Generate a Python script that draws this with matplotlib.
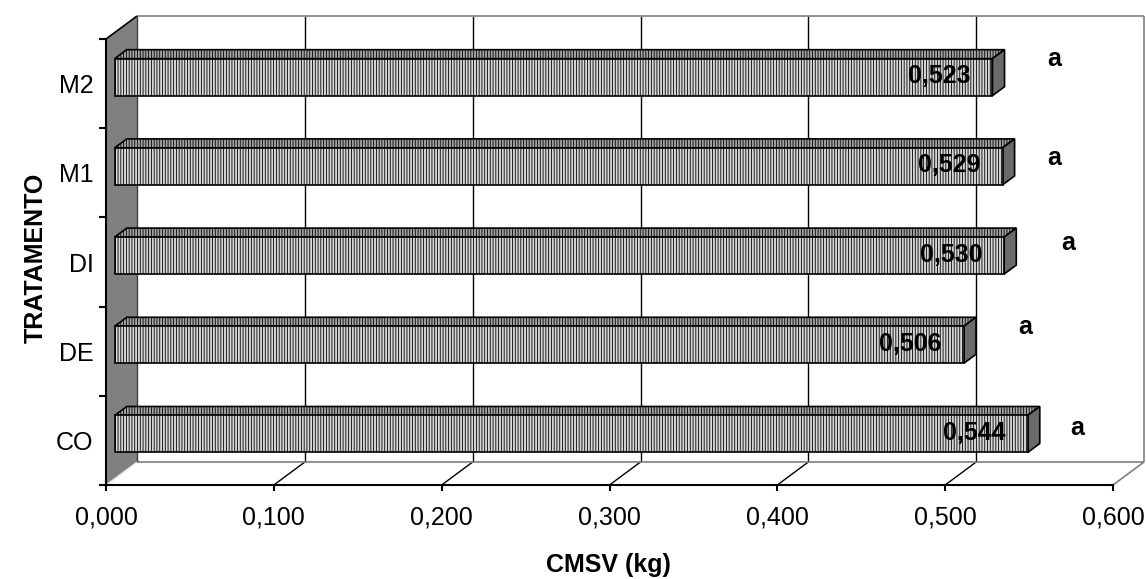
import numpy as np
import matplotlib
matplotlib.use("Agg")
import matplotlib.pyplot as plt
from matplotlib.patches import Polygon

# Data
categories = ["CO", "DE", "DI", "M1", "M2"]
cmsv = [0.544, 0.506, 0.530, 0.529, 0.523]
letters = ["a", "a", "a", "a", "a"]
xticks = [0.0, 0.1, 0.2, 0.3, 0.4, 0.5, 0.6]

# letter placement (pixel offsets from the bar end / category centre)
letter_dx = [49, 61, 64, 52, 62]
letter_dy = [6, 18, 13, 8, 18]

plt.rcParams['font.family'] = ['Liberation Sans', 'DejaVu Sans']
plt.rcParams['hatch.color'] = '#bababa'
plt.rcParams['hatch.linewidth'] = 0.6

fig = plt.figure(figsize=(11.46, 5.79), dpi=100)
W, H = 1146, 579
L, R, T, B = 106, 1113, 39, 485
ax = fig.add_axes([L / W, 1 - B / H, (R - L) / W, (B - T) / H])
ax.set_xlim(0, 0.6)
ax.set_ylim(-0.5, 4.5)
ax.patch.set_visible(False)

# depth of the 3d box in pixels, converted to data units
DX = 31 * 0.6 / (R - L)
DY = 23 * 5.0 / (B - T)


def sh(x, y, f):
    return (x + f * DX, y + f * DY)


def poly(pts, fc, ec="black", lw=1.0, z=1, hatch=None):
    p = Polygon(pts, closed=True, facecolor=fc, edgecolor=ec, lw=lw,
                zorder=z, clip_on=False, hatch=hatch)
    ax.add_patch(p)


def line(p0, p1, c="black", lw=1.0, z=2):
    ax.plot([p0[0], p1[0]], [p0[1], p1[1]], color=c, lw=lw, zorder=z,
            clip_on=False, solid_capstyle="butt")


x0, x1 = 0.0, 0.6
y0, y1 = -0.5, 4.5

# back wall
poly([sh(x0, y0, 1), sh(x1, y0, 1), sh(x1, y1, 1), sh(x0, y1, 1)],
     "white", ec="none", z=0.5)
for xv in xticks[1:-1]:
    line(sh(xv, y0, 1), sh(xv, y1, 1), "black", 1.0, 1)
    line((xv, y0), sh(xv, y0, 1), "black", 1.0, 1)
line(sh(x0, y1, 1), sh(x1, y1, 1), "#808080", 1.2, 1)
line(sh(x1, y1, 1), sh(x1, y0, 1), "#808080", 1.2, 1)
line(sh(x0, y0, 1), sh(x1, y0, 1), "#808080", 1.2, 1)
line((x1, y0), sh(x1, y0, 1), "#808080", 1.2, 1)

# left wall
poly([(x0, y0), (x0, y1), sh(x0, y1, 1), sh(x0, y0, 1)], "#808080",
     ec="none", z=0.8)
line((x0, y1), sh(x0, y1, 1), "black", 1.2, 1)
line(sh(x0, y1, 1), sh(x0, y0, 1), "#404040", 1.0, 1)
line((x0, y0), sh(x0, y0, 1), "#e0e0e0", 1.0, 1)

# bars
h = 0.415
f0, f1 = 0.28, 0.67
for i, v in enumerate(cmsv):
    lo, hi = i - h / 2, i + h / 2
    poly([sh(0, hi, f0), sh(v, hi, f0), sh(v, hi, f1), sh(0, hi, f1)],
         "#a2a2a2", lw=1.2, z=3, hatch="||||||")
    poly([sh(v, lo, f0), sh(v, hi, f0), sh(v, hi, f1), sh(v, lo, f1)],
         "#6a6a6a", lw=1.2, z=3)
    poly([sh(0, lo, f0), sh(v, lo, f0), sh(v, hi, f0), sh(0, hi, f0)],
         "#d6d6d6", lw=1.2, z=4, hatch="||||||")
    ax.annotate(f"{v:.3f}".replace(".", ","), xy=sh(v, i, f0),
                xytext=(-22, 1), textcoords="offset pixels",
                ha="right", va="center", fontsize=18, fontweight="bold",
                zorder=5, annotation_clip=False)
    ax.annotate(letters[i], xy=sh(v, i, f0),
                xytext=(letter_dx[i], letter_dy[i]),
                textcoords="offset pixels", ha="center", va="center",
                fontsize=18, fontweight="bold", zorder=5,
                annotation_clip=False)

# axes
for s in ["top", "right"]:
    ax.spines[s].set_visible(False)
for s in ["left", "bottom"]:
    ax.spines[s].set_linewidth(1.5)
    ax.spines[s].set_zorder(6)
ax.set_xticks(xticks)
ax.set_xticklabels([f"{t:.3f}".replace(".", ",") for t in xticks],
                   fontsize=18)
ax.set_yticks(range(len(categories)))
ax.set_yticklabels(categories, fontsize=18)
ax.set_yticks(np.arange(-0.5, 5, 1.0), minor=True)
ax.tick_params(axis="x", length=4, width=1.5, pad=11)
ax.tick_params(axis="y", which="major", length=0, pad=9)
ax.tick_params(axis="y", which="minor", length=5, width=1.5)

fig.text(608 / W, 1 - 565 / H, "CMSV (kg)", ha="center", va="center",
         fontsize=18, fontweight="bold")
fig.text(36 / W, 1 - 258 / H, "TRATAMENTO", ha="center", va="center",
         rotation=90, fontsize=18, fontweight="bold")

fig.savefig("out.png", dpi=100)
